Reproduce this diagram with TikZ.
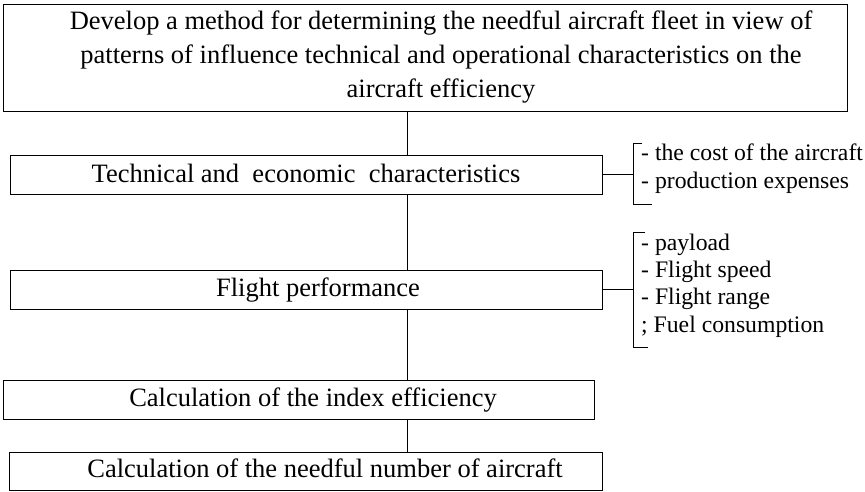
\documentclass[tikz,border=0pt]{standalone}
\usepackage{fontspec}
\setmainfont{Liberation Serif}
\begin{document}
\begin{tikzpicture}[x=1pt,y=-1pt,
  box/.style={draw=black, line width=1pt, rectangle, inner sep=0pt},
  link/.style={draw=black, line width=1pt},
  big/.style={font=\fontsize{26.5}{34}\selectfont, inner sep=0pt, anchor=base},
  small/.style={font=\fontsize{23.7}{27}\selectfont, inner sep=0pt, anchor=base west}]
\useasboundingbox (0,0) rectangle (865,491);

% boxes of the main chain
\node[box, minimum width=844pt, minimum height=107pt] (goal) at (425,57.5) {};
\node[box, minimum width=592pt, minimum height=39pt] (tec) at (306,174.5) {};
\node[box, minimum width=592pt, minimum height=39pt] (flt) at (306,289.5) {};
\node[box, minimum width=591pt, minimum height=39pt] (idx) at (298.5,399.5) {};
\node[box, minimum width=593pt, minimum height=38pt] (num) at (305.5,471) {};

% box texts
\node[big] (goal1) at (441,29) {Develop a method for determining the needful aircraft fleet in view of};
\node[big] (goal2) at (441,63) {patterns of influence technical and operational characteristics on the};
\node[big] (goal3) at (441,97) {aircraft efficiency};
\node[big] (tectxt) at (306,182) {Technical and\ \ economic\ \ characteristics};
\node[big] (flttxt) at (318,296) {Flight performance};
\node[big] (idxtxt) at (313,406) {Calculation of the index efficiency};
\node[big] (numtxt) at (325,477) {Calculation of the needful number of aircraft};

% vertical spine
\coordinate (spine) at (407,0);
\draw[link] (goal.south -| spine) -- (tec.north -| spine);
\draw[link] (tec.south -| spine) -- (flt.north -| spine);
\draw[link] (flt.south -| spine) -- (idx.north -| spine);
\draw[link] (idx.south -| spine) -- (num.north -| spine);

% bracket of the economic characteristics
\coordinate (br1) at (633,174.5);
\coordinate (br1top) at (633,143);
\coordinate (br1bot) at (633,204);
\draw[link] (tec.east) -- (br1);
\draw[link] ([xshift=9pt]br1top) -- (br1top) -- (br1bot) -- ([xshift=19pt]br1bot);
\node[small] (c1) at (641,160) {- the cost of the aircraft};
\node[small] (c2) at (641,188) {- production expenses};

% bracket of the flight performance
\coordinate (br2) at (633,289.5);
\coordinate (br2top) at (633,232);
\coordinate (br2bot) at (633,347);
\draw[link] (flt.east) -- (br2);
\draw[link] ([xshift=12pt]br2top) -- (br2top) -- (br2bot) -- ([xshift=15pt]br2bot);
\node[small] (p1) at (641,250) {- payload};
\node[small] (p2) at (641,277) {- Flight speed};
\node[small] (p3) at (641,304) {- Flight range};
\node[small] (p4) at (641,332) {; Fuel consumption};
\end{tikzpicture}
\end{document}
